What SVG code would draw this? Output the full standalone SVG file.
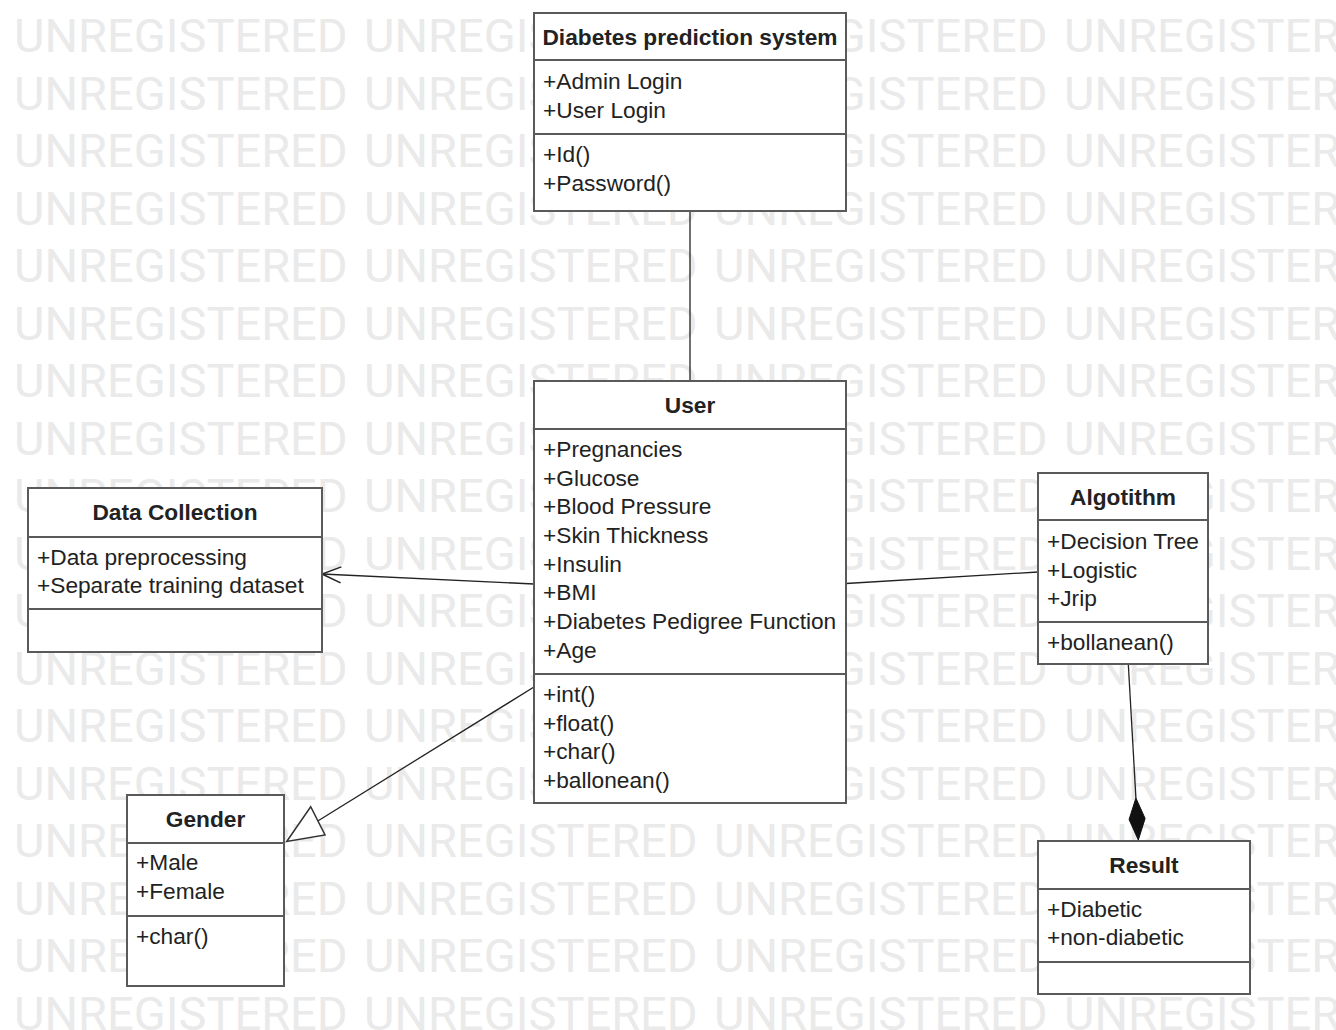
<svg xmlns="http://www.w3.org/2000/svg" xmlns:xlink="http://www.w3.org/1999/xlink" width="1336" height="1030" viewBox="0 0 1336 1030">
<defs>
<style>
.wm{font-family:Roboto,"Liberation Sans",sans-serif;font-size:47px;fill:#eaeaea}
.box{fill:#ffffff;stroke:#5a5a5a;stroke-width:2}
.div{stroke:#5a5a5a;stroke-width:2;fill:none}
.ttl{font-family:"Liberation Sans",Arial,sans-serif;font-size:22.7px;font-weight:bold;fill:#222222;text-anchor:middle}
.txt{font-family:"Liberation Sans",Arial,sans-serif;font-size:22.7px;fill:#222222}
.ln{stroke:#222222;stroke-width:1.3;fill:none}
</style>
<marker id="openArrow" markerUnits="userSpaceOnUse" viewBox="-22 -11 24 22" refX="0" refY="0" markerWidth="24" markerHeight="22" orient="auto">
<path d="M-19,-8 L0,0 L-19,8" fill="none" stroke="#222222" stroke-width="1.5"/>
</marker>
<g id="wmrow">
<text class="wm" x="14" y="0">UNREGISTERED</text>
<text class="wm" x="364" y="0">UNREGISTERED</text>
<text class="wm" x="714" y="0">UNREGISTERED</text>
<text class="wm" x="1064" y="0">UNREGISTERED</text>
</g>
</defs>
<rect x="0" y="0" width="1336" height="1030" fill="#ffffff"/>
<g id="watermark">
<use xlink:href="#wmrow" href="#wmrow" y="52"/>
<use xlink:href="#wmrow" href="#wmrow" y="109.5"/>
<use xlink:href="#wmrow" href="#wmrow" y="167"/>
<use xlink:href="#wmrow" href="#wmrow" y="224.5"/>
<use xlink:href="#wmrow" href="#wmrow" y="282"/>
<use xlink:href="#wmrow" href="#wmrow" y="339.5"/>
<use xlink:href="#wmrow" href="#wmrow" y="397"/>
<use xlink:href="#wmrow" href="#wmrow" y="454.5"/>
<use xlink:href="#wmrow" href="#wmrow" y="512"/>
<use xlink:href="#wmrow" href="#wmrow" y="569.5"/>
<use xlink:href="#wmrow" href="#wmrow" y="627"/>
<use xlink:href="#wmrow" href="#wmrow" y="684.5"/>
<use xlink:href="#wmrow" href="#wmrow" y="742"/>
<use xlink:href="#wmrow" href="#wmrow" y="799.5"/>
<use xlink:href="#wmrow" href="#wmrow" y="857"/>
<use xlink:href="#wmrow" href="#wmrow" y="914.5"/>
<use xlink:href="#wmrow" href="#wmrow" y="972"/>
<use xlink:href="#wmrow" href="#wmrow" y="1029.5"/>
</g>
<g id="connectors">
<line class="ln" x1="690" y1="212" x2="690" y2="381"/>
<path class="ln" d="M534,584 L322,574" marker-end="url(#openArrow)"/>
<line class="ln" x1="846" y1="583.5" x2="1038" y2="572"/>
<line class="ln" x1="534" y1="687" x2="317.8" y2="821"/>
<polygon points="286.7,841.5 310.7,806.7 325,835" fill="#ffffff" stroke="#333333" stroke-width="1.5"/>
<line class="ln" x1="1128.3" y1="664" x2="1135.9" y2="798"/>
<polygon points="1138.3,840 1145.1,818.5 1135.9,798 1129.1,819.5" fill="#111111" stroke="#111111" stroke-width="1"/>
</g>
<g id="node-diabetes-prediction-system">
<rect class="box" x="534" y="13" width="312" height="198"/>
<line class="div" x1="534" y1="60" x2="846" y2="60"/>
<line class="div" x1="534" y1="134" x2="846" y2="134"/>
<text class="ttl" x="690" y="45">Diabetes prediction system</text>
<text class="txt" x="543" y="89">+Admin Login</text>
<text class="txt" x="543" y="118">+User Login</text>
<text class="txt" x="543" y="162">+Id()</text>
<text class="txt" x="543" y="191">+Password()</text>
</g>
<g id="node-user">
<rect class="box" x="534" y="381" width="312" height="422"/>
<line class="div" x1="534" y1="429" x2="846" y2="429"/>
<line class="div" x1="534" y1="674" x2="846" y2="674"/>
<text class="ttl" x="690" y="413">User</text>
<text class="txt" x="543" y="457">+Pregnancies</text>
<text class="txt" x="543" y="486">+Glucose</text>
<text class="txt" x="543" y="514">+Blood Pressure</text>
<text class="txt" x="543" y="543">+Skin Thickness</text>
<text class="txt" x="543" y="572">+Insulin</text>
<text class="txt" x="543" y="600">+BMI</text>
<text class="txt" x="543" y="629">+Diabetes Pedigree Function</text>
<text class="txt" x="543" y="658">+Age</text>
<text class="txt" x="543" y="702">+int()</text>
<text class="txt" x="543" y="731">+float()</text>
<text class="txt" x="543" y="759">+char()</text>
<text class="txt" x="543" y="788">+ballonean()</text>
</g>
<g id="node-data-collection">
<rect class="box" x="28" y="488" width="294" height="164"/>
<line class="div" x1="28" y1="537" x2="322" y2="537"/>
<line class="div" x1="28" y1="609" x2="322" y2="609"/>
<text class="ttl" x="175" y="520">Data Collection</text>
<text class="txt" x="37" y="565">+Data preprocessing</text>
<text class="txt" x="37" y="593">+Separate training dataset</text>
</g>
<g id="node-gender">
<rect class="box" x="127" y="795" width="157" height="191"/>
<line class="div" x1="127" y1="843" x2="284" y2="843"/>
<line class="div" x1="127" y1="916" x2="284" y2="916"/>
<text class="ttl" x="205.5" y="827">Gender</text>
<text class="txt" x="136" y="870">+Male</text>
<text class="txt" x="136" y="899">+Female</text>
<text class="txt" x="136" y="944">+char()</text>
</g>
<g id="node-algotithm">
<rect class="box" x="1038" y="473" width="170" height="191"/>
<line class="div" x1="1038" y1="520" x2="1208" y2="520"/>
<line class="div" x1="1038" y1="622" x2="1208" y2="622"/>
<text class="ttl" x="1123" y="505">Algotithm</text>
<text class="txt" x="1047" y="549">+Decision Tree</text>
<text class="txt" x="1047" y="578">+Logistic</text>
<text class="txt" x="1047" y="606">+Jrip</text>
<text class="txt" x="1047" y="650">+bollanean()</text>
</g>
<g id="node-result">
<rect class="box" x="1038" y="841" width="212" height="153"/>
<line class="div" x1="1038" y1="889" x2="1250" y2="889"/>
<line class="div" x1="1038" y1="962" x2="1250" y2="962"/>
<text class="ttl" x="1144" y="873">Result</text>
<text class="txt" x="1047" y="917">+Diabetic</text>
<text class="txt" x="1047" y="945">+non-diabetic</text>
</g>
</svg>
